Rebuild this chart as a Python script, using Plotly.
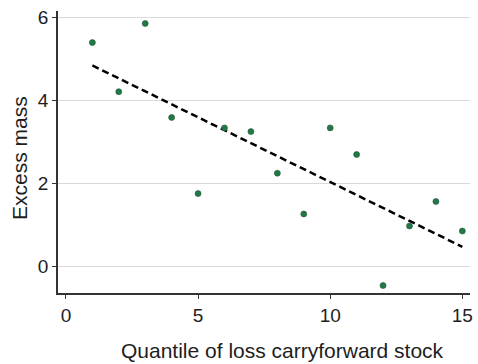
import numpy as np
import plotly.graph_objects as go

quantile = list(range(1, 16))
excess_mass = [5.39, 4.21, 5.85, 3.59, 1.76, 3.34, 3.25, 2.25, 1.27, 3.34, 2.70, -0.45, 0.98, 1.57, 0.86]
x_ticks = [0, 5, 10, 15]
y_ticks = [0, 2, 4, 6]
x_title = "Quantile of loss carryforward stock"
y_title = "Excess mass"

slope, intercept = np.polyfit(quantile, excess_mass, 1)
fit_x = [quantile[0], quantile[-1]]
fit_y = [slope * v + intercept for v in fit_x]

font_family = "Liberation Sans, Arial, Helvetica, sans-serif"

fig = go.Figure()
fig.add_trace(go.Scatter(
    x=fit_x, y=fit_y, mode="lines",
    line=dict(color="black", width=2.5, dash="7px,4px"),
    showlegend=False, hoverinfo="skip"))
fig.add_trace(go.Scatter(
    x=quantile, y=excess_mass, mode="markers",
    marker=dict(color="#1d7a45", size=6, line=dict(color="#2f5540", width=0.6)),
    showlegend=False))

fig.update_layout(
    width=478, height=364,
    margin=dict(l=58, r=8, t=11, b=71),
    paper_bgcolor="white", plot_bgcolor="white",
    font=dict(family=font_family, size=19, color="#1e1e1e"),
    xaxis=dict(
        range=[-0.3, 15.29], tickvals=x_ticks, showgrid=False, zeroline=False,
        automargin=False,
        showline=True, linecolor="#333333", linewidth=1.5,
        ticks="outside", ticklen=4, tickcolor="#333333", tickwidth=1,
        tickfont=dict(size=19)),
    yaxis=dict(
        range=[-0.63, 6.15], tickvals=y_ticks, showgrid=True, gridcolor="#d9d9d9", gridwidth=1,
        zeroline=False, showline=True, linecolor="#333333", linewidth=1.5,
        automargin=False,
        ticks="outside", ticklen=4, tickcolor="#333333", tickwidth=1,
        tickfont=dict(size=19)),
    annotations=[
        dict(text=x_title, xref="paper", yref="paper", x=0.544, y=-0.205,
             xanchor="center", yanchor="middle", showarrow=False, font=dict(size=21)),
        dict(text=y_title, xref="paper", yref="paper", x=-0.092, y=0.479, textangle=-90,
             xanchor="center", yanchor="middle", showarrow=False, font=dict(size=21)),
    ],
)

fig.write_html("out.html", config={"displayModeBar": False},
               post_script="document.body.style.margin='0';document.body.style.overflow='hidden';")
